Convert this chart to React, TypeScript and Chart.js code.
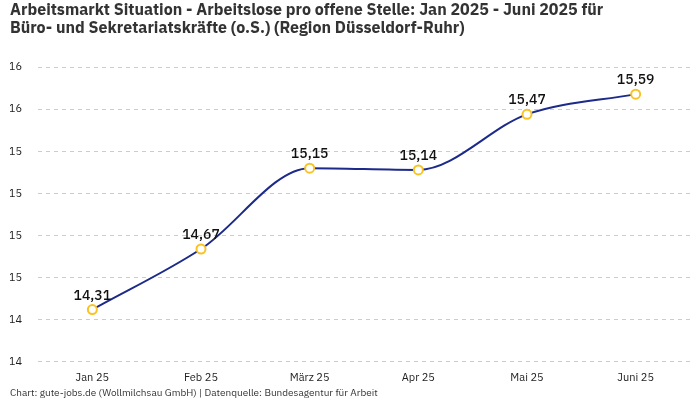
import React, { useEffect, useRef } from "react";
import { Chart, registerables } from "chart.js";

Chart.register(...registerables);

const titleLines = [
  "Arbeitsmarkt Situation - Arbeitslose pro offene Stelle: Jan 2025 - Juni 2025 für",
  "Büro- und Sekretariatskräfte (o.S.) (Region Düsseldorf-Ruhr)",
];
const footerText = "Chart: gute-jobs.de (Wollmilchsau GmbH) | Datenquelle: Bundesagentur für Arbeit";
const categories = ["Jan 25", "Feb 25", "März 25", "Apr 25", "Mai 25", "Juni 25"];
const values = [14.31, 14.67, 15.15, 15.14, 15.47, 15.59];
const yMin = 14;
const yMax = 15.75;
const yStep = 0.25;

const FONT = "'IBM Plex Sans', 'Noto Sans', sans-serif";

const labelPlugin = {
  id: "pointLabels",
  afterDatasetsDraw(chart: any) {
    const ctx = chart.ctx;
    const meta = chart.getDatasetMeta(0);
    ctx.save();
    ctx.font = `500 14px ${FONT}`;
    ctx.fillStyle = "#111";
    ctx.textAlign = "center";
    ctx.textBaseline = "bottom";
    meta.data.forEach((pt: any, i: number) => {
      const v = values[i].toFixed(2).replace(".", ",");
      ctx.fillText(v, pt.x, pt.y - 7);
    });
    ctx.restore();
  },
};

const footerPlugin = {
  id: "footerText",
  afterDraw(chart: any) {
    const ctx = chart.ctx;
    ctx.save();
    ctx.font = `10px ${FONT}`;
    ctx.fillStyle = "#333";
    ctx.textAlign = "left";
    ctx.textBaseline = "middle";
    ctx.fillText(footerText, 10, 393);
    ctx.restore();
  },
};

export default function App() {
  const ref = useRef<HTMLCanvasElement>(null);
  useEffect(() => {
    document.body.style.margin = "0";
    const chart = new Chart(ref.current!, {
      type: "line",
      data: {
        labels: categories,
        datasets: [
          {
            data: values,
            borderColor: "#1c2a8a",
            borderWidth: 2,
            cubicInterpolationMode: "monotone",
            pointRadius: 4.5,
            pointBorderWidth: 2,
            pointBorderColor: "#f7c325",
            pointBackgroundColor: "#ffffff",
            fill: false,
          },
        ],
      },
      options: {
        animation: false,
        responsive: false,
        layout: { padding: { left: 10, right: 10, top: 0, bottom: 7 } },
        plugins: {
          legend: { display: false },
          tooltip: { enabled: false },
          title: {
            display: true,
            text: titleLines,
            align: "start",
            color: "#333",
            font: { family: FONT, size: 16, weight: "bold", lineHeight: 1.1 },
            padding: { top: 2, bottom: 30 },
          },
        },
        scales: {
          x: {
            offset: true,
            grid: { display: false, drawTicks: false },
            border: { display: false },
            ticks: { color: "#222", font: { family: FONT, size: 11 }, padding: 9 },
          },
          y: {
            min: yMin,
            max: yMax,
            afterFit(s: any) {
              s.width = 28;
            },
            grid: { color: "#cccccc", drawTicks: false, tickLength: 0 },
            border: { display: false, dash: [4, 4] },
            ticks: {
              stepSize: yStep,
              color: "#222",
              font: { family: FONT, size: 11 },
              padding: 16,
              callback: (v: any) => Number(v).toFixed(0),
            },
          },
        },
      },
      plugins: [labelPlugin, footerPlugin],
    } as any);
    return () => chart.destroy();
  }, []);
  return <canvas ref={ref} width={700} height={400} style={{ display: "block" }} />;
}
